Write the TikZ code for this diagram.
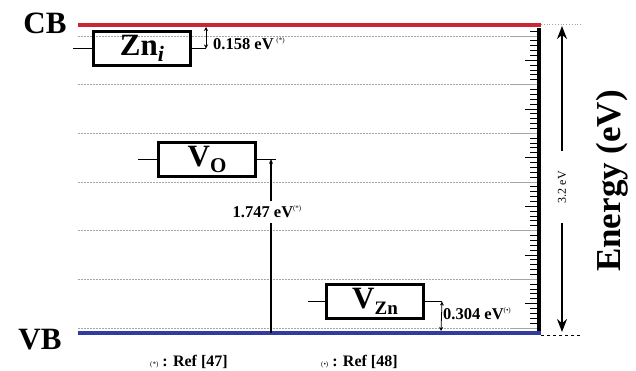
\documentclass[tikz,border=0pt]{standalone}
\usepackage{fontspec}
\setmainfont{Liberation Serif}
\usetikzlibrary{arrows.meta,positioning,calc}
\definecolor{cbred}{RGB}{204,38,52}
\definecolor{vbblue}{RGB}{50,60,160}
\definecolor{gridgray}{RGB}{165,165,165}

\begin{document}
\begin{tikzpicture}[x=1pt,y=-1pt,
    defect/.style={draw,line width=3pt,minimum width=97pt,minimum height=34pt,inner sep=0pt,
      font=\fontsize{31}{32}\selectfont\bfseries},
    gaplabel/.style={font=\fontsize{16.5}{17}\selectfont\bfseries,inner sep=1pt},
    bandlabel/.style={font=\fontsize{31}{32}\selectfont\bfseries},
    reflabel/.style={font=\fontsize{16}{17}\selectfont\bfseries,anchor=west,inner sep=0pt},
    stub/.style={line width=.6pt}]
    \useasboundingbox (0,0) rectangle (636,370);
    % grid lines and ruler
    \foreach \g in {0,...,6} {
      \draw[gridgray,line width=.5pt,dash pattern=on 2pt off 1pt] (78,36+48.67*\g) -- (510,36+48.67*\g);
      \draw[gridgray,line width=.8pt] (510,36+48.67*\g) -- (537,36+48.67*\g);
    }
    \foreach \k in {-1,...,60} {
      \pgfmathsetmacro\tl{ifthenelse(mod(\k,10)==0,0,ifthenelse(mod(\k,5)==0,12,7))}
      \draw[line width=1pt] (537-\tl,36+4.867*\k) -- (537,36+4.867*\k);
    }
    \draw[line width=4.5pt] (539,28) -- (539,333);
    % band edges
    \draw[cbred,line width=4pt] (78,25) -- (541,25);
    \draw[vbblue,line width=4pt] (78,333) -- (541,333);
    \node[bandlabel] (cb) at (45,23) {CB};
    \node[bandlabel] (vb) at (40,340) {VB};
    % defect levels
    \node[defect] (zni) at (142,48.5) {Zn\raisebox{-6pt}{\fontsize{22}{22}\selectfont\itshape i}};
    \node[defect] (vo) at (207,159) {V\raisebox{-6pt}{\fontsize{21}{21}\selectfont O}};
    \node[defect] (vzn) at (375,301.5) {V\raisebox{-6pt}{\fontsize{19}{19}\selectfont Zn}};
    \coordinate (zniL) at (73,48.5);  \coordinate (zniR) at (206,48.5);
    \coordinate (voL) at (138,159);   \coordinate (voR) at (276,159);
    \coordinate (vznL) at (308,301.5); \coordinate (vznR) at (442,301.5);
    \draw[stub] (zniL) -- (zni.west) (zni.east) -- (zniR);
    \draw[stub] (voL) -- (vo.west) (vo.east) -- (voR);
    \draw[stub] (vznL) -- (vzn.west) (vzn.east) -- (vznR);
    % level depths
    \coordinate (cbA) at (206,27);
    \coordinate (vbA) at (271,333);
    \coordinate (vbB) at (441,331);
    \draw[{Stealth[length=4pt,width=4pt]}-{Stealth[length=4pt,width=4pt]},line width=.8pt] (cbA) -- (zniR);
    \draw[-{Stealth[length=5pt,width=4pt]},line width=1.1pt] (vbA) -- (271,159);
    \draw[{Stealth[length=4pt,width=4pt]}-{Stealth[length=4pt,width=4pt]},line width=.8pt] (vznR) -- (vbB);
    \node[gaplabel,anchor=west] (lzni) at (212,44) {0.158 eV\,\raisebox{7pt}{\fontsize{7}{7}\selectfont\mdseries(*)}};
    \node[gaplabel,fill=white,inner ysep=5pt] (lvo) at (267,212) {1.747 eV\raisebox{7pt}{\fontsize{7}{7}\selectfont\mdseries(*)}};
    \node[gaplabel,anchor=west] (lvzn) at (442,314) {0.304 eV\raisebox{7pt}{\fontsize{7}{7}\selectfont\mdseries(\textbullet)}};
    % band gap
    \coordinate (egT) at (562,26);
    \coordinate (egB) at (562,332);
    \draw[gridgray,dotted,line width=.8pt] (541,24) -- (582,24);
    \draw[dashed,line width=.8pt] (541,335) -- (582,335);
    \draw[{Stealth[length=13pt,width=10pt]}-{Stealth[length=13pt,width=10pt]},line width=1.8pt] (egT) -- (egB);
    \node[fill=white,rotate=90,inner xsep=20pt,font=\fontsize{12}{12}\selectfont] (eg) at (562,187) {3.2 eV};
    \node[rotate=90,font=\fontsize{35}{36}\selectfont\bfseries] (energy) at (612,181) {Energy (eV)};
    % references
    \node[reflabel] (ref1) at (150,362) {{\fontsize{7}{7}\selectfont\mdseries(*)} : Ref [47]};
    \node[reflabel] (ref2) at (321,362) {{\fontsize{7}{7}\selectfont\mdseries(\textbullet)} : Ref [48]};
\end{tikzpicture}
\end{document}
